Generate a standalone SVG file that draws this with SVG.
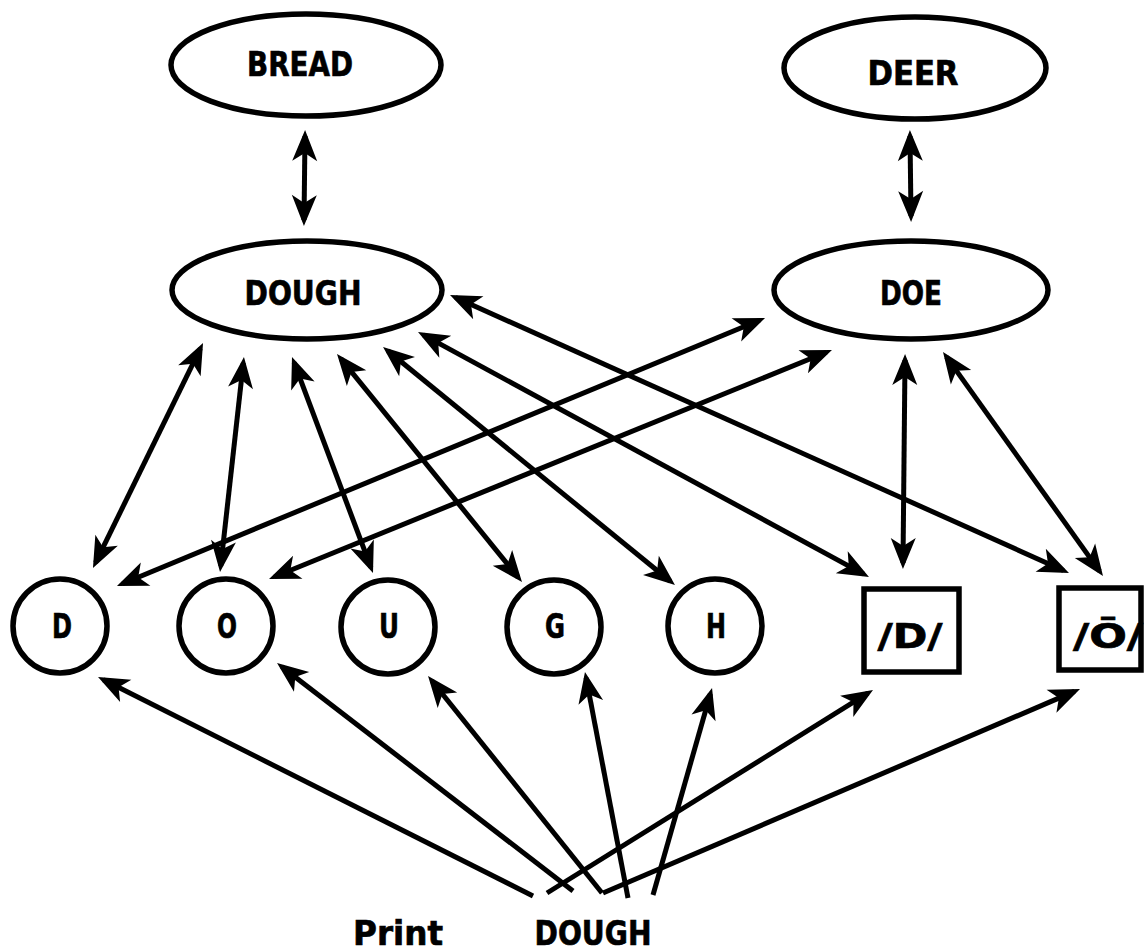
<svg xmlns="http://www.w3.org/2000/svg" width="1145" height="952" viewBox="0 0 1145 952">
  <style>
    .shape { fill: #ffffff; stroke: #000000; stroke-width: 5.5; }
    .label { font-family: "DejaVu Sans", "Liberation Sans", sans-serif; font-weight: bold; font-size: 34px; fill: #000000; stroke: #000000; stroke-width: 0.7; text-anchor: middle; }
    .link { stroke: #000000; stroke-width: 5; fill: none; stroke-linecap: butt; }
    .both { marker-start: url(#head); marker-end: url(#head); }
    .one { marker-end: url(#head); }
  </style>
  <defs>
    <!-- filled, slightly notched arrowhead; tip sits 6px past the line end -->
    <marker id="head" viewBox="-34 -17 44 34" refX="0" refY="0" markerWidth="44" markerHeight="34" markerUnits="userSpaceOnUse" orient="auto-start-reverse">
      <path d="M6,0 L-25,-12.5 L-17,0 L-25,12.5 Z" fill="#000000"/>
    </marker>
  </defs>

  <g id="connectors">
    <!-- word level -->
    <line class="link both" x1="305" y1="136" x2="304" y2="220"/>
    <line class="link both" x1="910" y1="136" x2="911" y2="216"/>
    <!-- DOUGH to letters and phonemes -->
    <line class="link both" x1="200.4" y1="348.4" x2="95.6" y2="562.6"/>
    <line class="link both" x1="243.3" y1="363" x2="220.7" y2="566"/>
    <line class="link both" x1="294.1" y1="362.6" x2="370.9" y2="567.4"/>
    <line class="link both" x1="340.8" y1="358.7" x2="518.2" y2="577.3"/>
    <line class="link both" x1="387.7" y1="350.8" x2="670.3" y2="581.2"/>
    <line class="link both" x1="423.3" y1="334.9" x2="863.7" y2="574.1"/>
    <line class="link both" x1="455.5" y1="297.5" x2="1063.5" y2="570.5"/>
    <!-- DOE to letters and phonemes -->
    <line class="link both" x1="759.5" y1="320.3" x2="122.5" y2="583.7"/>
    <line class="link both" x1="826.4" y1="352.3" x2="274.6" y2="576.7"/>
    <line class="link both" x1="905" y1="360" x2="903" y2="563"/>
    <line class="link both" x1="946.5" y1="356.9" x2="1099.5" y2="571.1"/>
    <!-- printed input to features -->
    <line class="link one" x1="533" y1="896" x2="103.4" y2="679.7"/>
    <line class="link one" x1="573" y1="891" x2="281.8" y2="666.7"/>
    <line class="link one" x1="602" y1="893" x2="431.8" y2="680.7"/>
    <line class="link one" x1="628" y1="898" x2="586.1" y2="677.9"/>
    <line class="link one" x1="653" y1="895" x2="710.4" y2="693.8"/>
    <line class="link one" x1="547" y1="893" x2="867.9" y2="693.2"/>
    <line class="link one" x1="603" y1="893" x2="1074.5" y2="691.4"/>
  </g>

  <g id="bread">
    <ellipse class="shape" cx="306" cy="65" rx="135" ry="51"/>
    <text class="label" x="300" y="76" textLength="106" lengthAdjust="spacingAndGlyphs">BREAD</text>
  </g>
  <g id="deer">
    <ellipse class="shape" cx="915" cy="68" rx="131" ry="51"/>
    <text class="label" x="913" y="85" textLength="91" lengthAdjust="spacingAndGlyphs">DEER</text>
  </g>
  <g id="dough">
    <ellipse class="shape" cx="307" cy="290" rx="135" ry="49"/>
    <text class="label" x="303" y="305" textLength="117" lengthAdjust="spacingAndGlyphs">DOUGH</text>
  </g>
  <g id="doe">
    <ellipse class="shape" cx="911" cy="290" rx="137" ry="49"/>
    <text class="label" x="911" y="305" textLength="62" lengthAdjust="spacingAndGlyphs">DOE</text>
  </g>

  <g id="letter-d">
    <circle class="shape" cx="60" cy="626" r="47"/>
    <text class="label" x="62" y="638" textLength="20" lengthAdjust="spacingAndGlyphs">D</text>
  </g>
  <g id="letter-o">
    <circle class="shape" cx="226" cy="626" r="47"/>
    <text class="label" x="227" y="638" textLength="20" lengthAdjust="spacingAndGlyphs">O</text>
  </g>
  <g id="letter-u">
    <circle class="shape" cx="388" cy="627" r="47"/>
    <text class="label" x="389" y="638" textLength="20" lengthAdjust="spacingAndGlyphs">U</text>
  </g>
  <g id="letter-g">
    <circle class="shape" cx="554" cy="627" r="47"/>
    <text class="label" x="555" y="638" textLength="20" lengthAdjust="spacingAndGlyphs">G</text>
  </g>
  <g id="letter-h">
    <circle class="shape" cx="715" cy="626" r="47"/>
    <text class="label" x="716" y="638" textLength="20" lengthAdjust="spacingAndGlyphs">H</text>
  </g>

  <g id="phoneme-d">
    <rect class="shape" x="864" y="589" width="95" height="83"/>
    <text class="label" x="910" y="648" textLength="65" lengthAdjust="spacingAndGlyphs">/D/</text>
  </g>
  <g id="phoneme-o">
    <rect class="shape" x="1059" y="588" width="82" height="82"/>
    <text class="label" x="1108" y="648" textLength="70" lengthAdjust="spacingAndGlyphs">/Ō/</text>
  </g>

  <g id="input">
    <text class="label" x="398" y="945" textLength="90" lengthAdjust="spacingAndGlyphs">Print</text>
    <text class="label" x="593" y="945" textLength="117" lengthAdjust="spacingAndGlyphs">DOUGH</text>
  </g>
</svg>
